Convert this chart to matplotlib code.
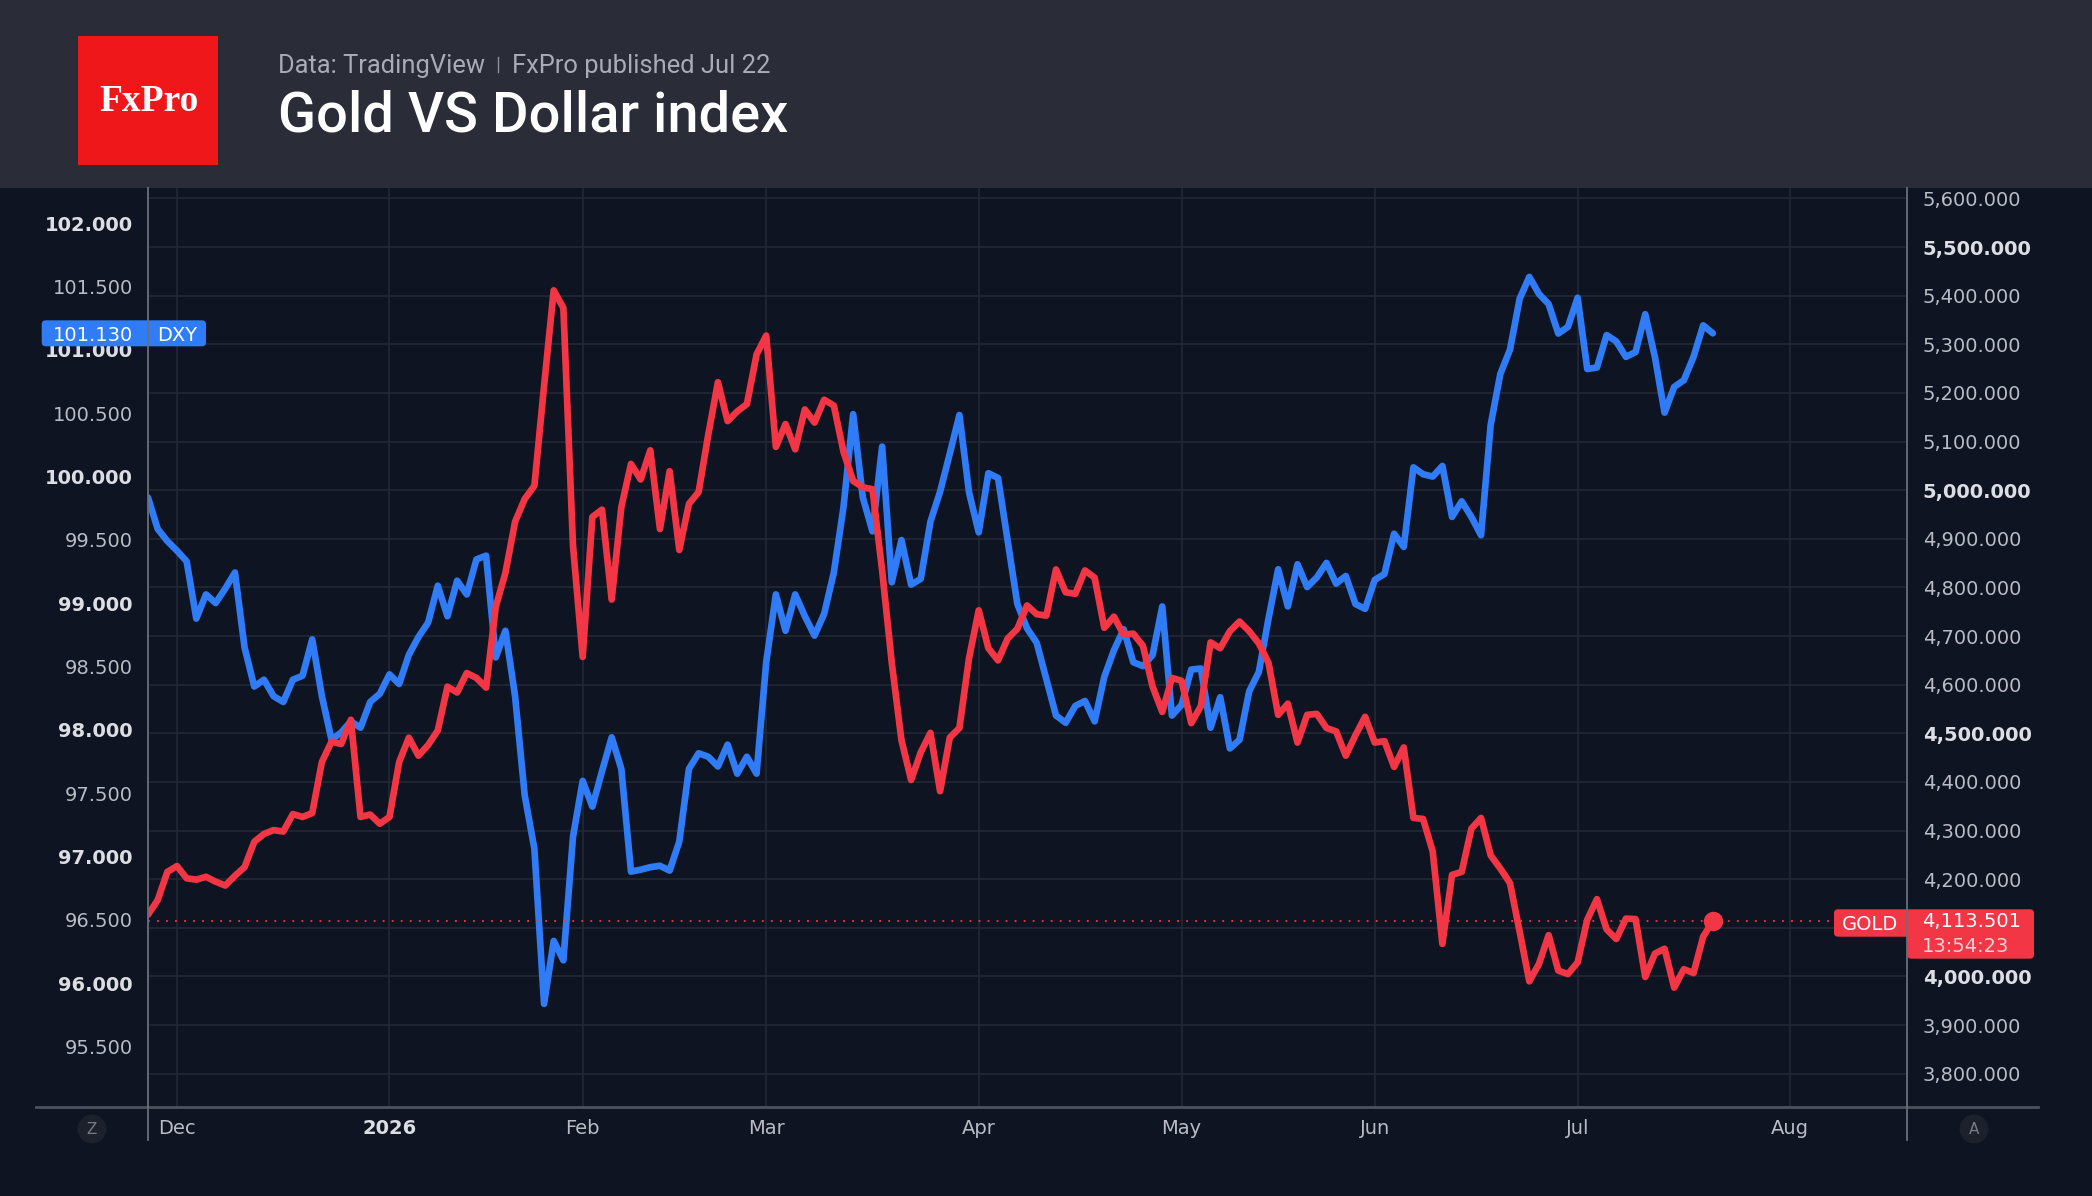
import matplotlib
matplotlib.use("Agg")
import matplotlib.pyplot as plt
from matplotlib.patches import Rectangle, FancyBboxPatch
from matplotlib.lines import Line2D
from matplotlib.transforms import IdentityTransform
import pandas as pd

# Gold (right scale) and DXY (left scale), one value per trading day
gold = [4127, 4157, 4215, 4227, 4202, 4199, 4205, 4195, 4187, 4207,
        4225, 4277, 4293, 4301, 4298, 4334, 4328, 4336, 4441, 4483,
        4478, 4528, 4328, 4333, 4314, 4328, 4441, 4491, 4454, 4476,
        4506, 4596, 4584, 4624, 4614, 4594, 4760, 4830, 4935, 4982,
        5009, 5214, 5411, 5375, 4885, 4657, 4945, 4960, 4775, 4965,
        5054, 5022, 5082, 4920, 5039, 4877, 4972, 4996, 5114, 5222,
        5142, 5162, 5177, 5279, 5318, 5089, 5136, 5084, 5166, 5139,
        5186, 5174, 5079, 5019, 5006, 5002, 4835, 4645, 4486, 4404,
        4461, 4501, 4381, 4491, 4511, 4655, 4753, 4675, 4650, 4695,
        4715, 4763, 4745, 4742, 4837, 4790, 4787, 4835, 4820, 4717,
        4740, 4703, 4705, 4680, 4596, 4544, 4614, 4608, 4521, 4556,
        4687, 4675, 4710, 4730, 4710, 4685, 4645, 4538, 4561, 4481,
        4538, 4540, 4511, 4504, 4454, 4496, 4534, 4481, 4484, 4431,
        4471, 4326, 4324, 4257, 4067, 4209, 4215, 4304, 4326, 4249,
        4222, 4192, 4092, 3990, 4026, 4085, 4012, 4005, 4029, 4117,
        4159, 4097, 4077, 4119, 4118, 3999, 4047, 4057, 3977, 4015,
        4007, 4082, 4113.501]

dxy = [99.834, 99.586, 99.490, 99.414, 99.330, 98.878, 99.069, 99.001, 99.115, 99.242,
       98.649, 98.342, 98.396, 98.266, 98.220, 98.396, 98.427, 98.714, 98.266, 97.922,
       97.979, 98.067, 98.017, 98.220, 98.285, 98.438, 98.362, 98.591, 98.733, 98.847,
       99.138, 98.897, 99.177, 99.069, 99.345, 99.375, 98.572, 98.782, 98.266, 97.482,
       97.061, 95.837, 96.334, 96.181, 97.157, 97.597, 97.394, 97.673, 97.941, 97.692,
       96.881, 96.896, 96.916, 96.927, 96.889, 97.118, 97.692, 97.815, 97.788, 97.711,
       97.883, 97.654, 97.788, 97.654, 98.534, 99.069, 98.782, 99.069, 98.897, 98.744,
       98.916, 99.242, 99.758, 100.492, 99.834, 99.567, 100.236, 99.165, 99.498, 99.146,
       99.192, 99.643, 99.880, 100.179, 100.485, 99.873, 99.559, 100.026, 99.988, 99.490,
       98.993, 98.802, 98.687, 98.400, 98.113, 98.056, 98.189, 98.228, 98.067, 98.419,
       98.629, 98.794, 98.534, 98.503, 98.591, 98.974, 98.113, 98.197, 98.476, 98.484,
       98.017, 98.258, 97.853, 97.922, 98.304, 98.457, 98.878, 99.268, 98.974, 99.307,
       99.127, 99.203, 99.318, 99.154, 99.215, 98.993, 98.955, 99.184, 99.230, 99.548,
       99.444, 100.072, 100.018, 99.999, 100.083, 99.681, 99.804, 99.681, 99.536, 100.408,
       100.810, 101.001, 101.403, 101.575, 101.441, 101.361, 101.128, 101.181, 101.411, 100.848,
       100.860, 101.116, 101.066, 100.944, 100.982, 101.281, 100.944, 100.504, 100.707, 100.760,
       100.944, 101.193, 101.130]

holidays = ["2025-11-27", "2025-12-25", "2026-01-01", "2026-01-19", "2026-02-16",
            "2026-04-03", "2026-05-25", "2026-06-19", "2026-07-03"]
months = ["2025-12", "2026-01", "2026-02", "2026-03", "2026-04",
          "2026-05", "2026-06", "2026-07", "2026-08"]
month_labels = ["Dec", "2026", "Feb", "Mar", "Apr", "May", "Jun", "Jul", "Aug"]

gold_ticks = list(range(3800, 5601, 100))
dxy_ticks = [95.5 + 0.5 * k for k in range(14)]

# trading calendar -> bar index
cal = pd.bdate_range("2025-11-25", "2026-08-31").drop(pd.to_datetime(holidays))
per = list(cal.to_period("M").astype(str))
month_pos = [per.index(m) for m in months]
x = list(range(len(gold)))

W, H = 2092, 1196
BG = "#0e1421"
HEADER = "#2a2d38"
BLUE = "#2f7cf6"
RED = "#f23645"
GRID = "#242935"
TXT = "#b9bcc4"
TXT_B = "#dcdee4"
ID = IdentityTransform()

fig = plt.figure(figsize=(W / 100, H / 100), dpi=100, facecolor=BG)
rect = [148 / W, 1 - 1107 / H, (1907 - 148) / W, (1107 - 188) / H]
xmax = 182.1

# background axes: grid, gold scale labels, dates
axg = fig.add_axes(rect)
axg.set_facecolor(BG)
axg.set_xlim(0, xmax)
axg.set_ylim(3731.6, 5621.4)
# the 4,100 label sits under the last-price box, as in TradingView
gold_lbls = ["" if abs(v - gold[-1]) < 50 else f"{v:,.3f}" for v in gold_ticks]
axg.set_yticks(gold_ticks, labels=gold_lbls)
axg.set_xticks(month_pos, labels=month_labels)
axg.yaxis.tick_right()
axg.grid(True, color=GRID, lw=1.1)
axg.tick_params(axis="y", length=0, pad=11.3, labelsize=14, labelcolor=TXT)
axg.tick_params(axis="x", length=0, pad=8.5, labelsize=14, labelcolor=TXT)
for lbl, v in zip(axg.get_yticklabels(), gold_ticks):
    if v % 500 == 0:
        lbl.set_fontweight("bold")
        lbl.set_color(TXT_B)
for lbl in axg.get_xticklabels():
    if lbl.get_text() == "2026":
        lbl.set_fontweight("bold")
        lbl.set_color(TXT_B)
for s in axg.spines.values():
    s.set_visible(False)

# DXY on the left scale
axd = fig.add_axes(rect)
axd.patch.set_visible(False)
axd.set_xlim(0, xmax)
axd.set_ylim(95.023, 102.277)
axd.set_yticks(dxy_ticks, labels=[f"{v:.3f}" for v in dxy_ticks])
axd.tick_params(axis="y", length=0, pad=11, labelsize=14, labelcolor=TXT)
axd.tick_params(axis="x", bottom=False, labelbottom=False)
for lbl, v in zip(axd.get_yticklabels(), dxy_ticks):
    if v == int(v):
        lbl.set_fontweight("bold")
        lbl.set_color(TXT_B)
for s in axd.spines.values():
    s.set_visible(False)
axd.plot(x, dxy, color=BLUE, lw=4.8, solid_joinstyle="round", solid_capstyle="round")

# Gold on top
axt = fig.add_axes(rect)
axt.set_xlim(0, xmax)
axt.set_ylim(3731.6, 5621.4)
axt.axis("off")
axt.axhline(gold[-1], color=RED, lw=1.3, ls=(0, (1, 4)))
axt.plot(x, gold, color=RED, lw=4.8, solid_joinstyle="round", solid_capstyle="round")
axt.plot([x[-1]], [gold[-1]], "o", color=RED, ms=13)

# header
fig.add_artist(Rectangle((0, H - 188), W, 188, transform=ID, fc=HEADER, ec="none"))
fig.add_artist(Rectangle((78, H - 165), 140, 129, transform=ID, fc="#f0171a", ec="none"))
fig.text(149, H - 111, "FxPro", transform=ID, family="Liberation Serif", weight="bold",
         size=27, color="white", ha="center", va="baseline")
fig.text(278.5, H - 72.7, "Data: TradingView", transform=ID, family="Roboto",
         size=18.4, color="#a9acb4", va="baseline")
fig.add_artist(Line2D([498.3, 498.3], [H - 57, H - 72], transform=ID, color="#8d9099", lw=1))
fig.text(511.5, H - 72.7, "FxPro published Jul 22", transform=ID, family="Roboto",
         size=18.4, color="#a9acb4", va="baseline")
fig.text(277.5, H - 131, "Gold VS Dollar index", transform=ID, family="Roboto",
         weight="medium", size=40.3, color="white", va="baseline")

# axis frame lines
fig.add_artist(Line2D([36, 2038], [H - 1107, H - 1107], transform=ID, color="#4e515c", lw=2))
for xp in (148, 1907):
    fig.add_artist(Line2D([xp, xp], [H - 188, H - 1140], transform=ID, color="#6b6e78", lw=1.3))

for xp, s in ((92, "Z"), (1974, "A")):
    fig.text(xp, H - 1129, s, transform=ID, size=11, color="#787b86", ha="center", va="center",
             bbox=dict(boxstyle="circle,pad=0.45", fc="#1c212c", ec="none"))

# last value labels
yd = axd.transData.transform((0, dxy[-1]))[1]
fig.add_artist(FancyBboxPatch((41.7, yd - 13), 164.3, 26, transform=ID,
                              boxstyle="round,pad=0,rounding_size=4", fc=BLUE, ec="none"))
fig.text(132.7, yd, f"{dxy[-1]:.3f}", transform=ID, size=14, color="white",
         ha="right", va="center_baseline")
fig.text(157, yd, "DXY", transform=ID, size=14, color="white", ha="left", va="center_baseline")

yg = axt.transData.transform((0, gold[-1]))[1]
fig.add_artist(FancyBboxPatch((1834, yg - 15.4), 78, 27.4, transform=ID,
                              boxstyle="round,pad=0,rounding_size=4", fc=RED, ec="none"))
fig.add_artist(FancyBboxPatch((1907.3, yg - 37.4), 126.7, 49.4, transform=ID,
                              boxstyle="round,pad=0,rounding_size=4", fc=RED, ec="none"))
fig.text(1841.7, yg - 1.7, "GOLD", transform=ID, size=14, color="white",
         ha="left", va="center_baseline")
fig.text(1921.7, yg + 1.3, f"{gold[-1]:,.3f}", transform=ID, size=14, color="white",
         ha="left", va="center_baseline")
fig.text(1921.7, yg - 23.7, "13:54:23", transform=ID, size=14, color="#fbd3d7",
         ha="left", va="center_baseline")

fig.savefig("out.png", dpi=100, facecolor=BG)
